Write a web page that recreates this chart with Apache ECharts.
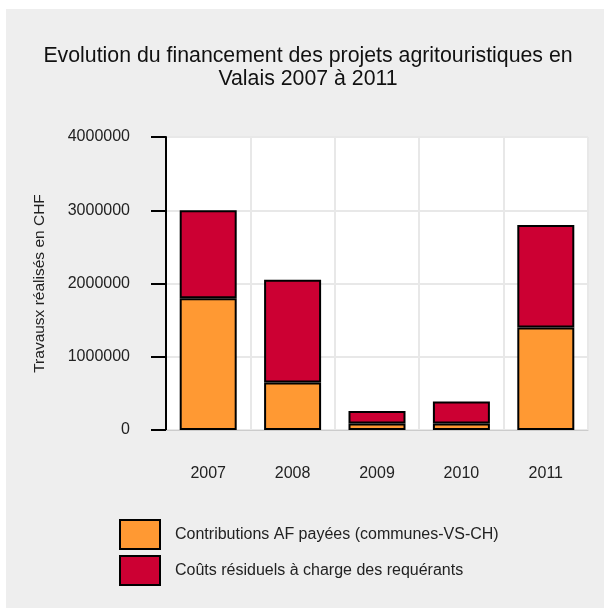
<!DOCTYPE html>
<html>
<head>
<meta charset="utf-8">
<script src="https://cdn.jsdelivr.net/npm/echarts@6/dist/echarts.min.js"></script>
<style>
  html, body { margin: 0; padding: 0; background: #ffffff; }
  #chart { position: absolute; left: 6px; top: 9px; width: 598px; height: 599px; }
</style>
</head>
<body>
<div id="chart"></div>
<script>
// Financement des projets agritouristiques en Valais, 2007–2011 (CHF)
const years = ['2007', '2008', '2009', '2010', '2011'];
const contributions = [1800000, 650000, 90000, 90000, 1400000];
const residuels = [1200000, 1400000, 170000, 300000, 1400000];
const seriesNames = ['Contributions AF payées (communes-VS-CH)', 'Coûts résiduels à charge des requérants'];

const FONT = '"Liberation Sans", Arial, sans-serif';
const chart = echarts.init(document.getElementById('chart'), null, { renderer: 'canvas' });

chart.setOption({
  backgroundColor: '#eeeeee',
  animation: false,
  textStyle: { fontFamily: FONT },
  title: {
    text: 'Evolution du financement des projets agritouristiques en\nValais 2007 à 2011',
    left: 302,
    top: 35,
    padding: 0,
    textAlign: 'center',
    textStyle: { fontFamily: FONT, fontSize: 21.3, fontWeight: 'normal', color: '#111', lineHeight: 23.5 }
  },
  legend: {
    orient: 'vertical',
    left: 113,
    top: 510,
    padding: 0,
    itemWidth: 40,
    itemHeight: 29,
    itemGap: 5,
    icon: 'rect',
    selectedMode: false,
    textStyle: { fontFamily: FONT, fontSize: 16, color: '#222', padding: [0, 0, 0, 10] },
    data: seriesNames
  },
  grid: {
    left: 160,
    top: 128,
    width: 422,
    height: 293,
    show: true,
    backgroundColor: '#ffffff',
    borderColor: '#cccccc',
    borderWidth: 1
  },
  xAxis: {
    type: 'category',
    data: years,
    axisLine: { show: true, lineStyle: { color: '#cccccc', width: 1 } },
    axisTick: { show: false },
    splitLine: { show: true, interval: 0, lineStyle: { color: '#e8e8e8', width: 2 } },
    axisLabel: { fontFamily: FONT, fontSize: 16, color: '#222', margin: 36 }
  },
  yAxis: {
    type: 'value',
    min: 0,
    max: 4000000,
    interval: 1000000,
    name: 'Travausx réalisés en CHF',
    nameLocation: 'middle',
    nameGap: 118,
    nameTextStyle: { fontFamily: FONT, fontSize: 15.5, color: '#222' },
    axisLine: { show: true, lineStyle: { color: '#000', width: 2 } },
    axisTick: { show: true, inside: false, length: 15, lineStyle: { color: '#000', width: 2 } },
    splitLine: { show: true, lineStyle: { color: '#e8e8e8', width: 2 } },
    axisLabel: { fontFamily: FONT, fontSize: 16, color: '#222', margin: 36, formatter: v => String(v) }
  },
  series: [
    {
      name: seriesNames[0],
      type: 'bar',
      stack: 'total',
      barWidth: 57,
      data: contributions,
      itemStyle: { color: '#FF9933', borderColor: '#000', borderWidth: 2 }
    },
    {
      name: seriesNames[1],
      type: 'bar',
      stack: 'total',
      barWidth: 57,
      data: residuels,
      itemStyle: { color: '#CC0033', borderColor: '#000', borderWidth: 2 }
    }
  ]
});
</script>
</body>
</html>
